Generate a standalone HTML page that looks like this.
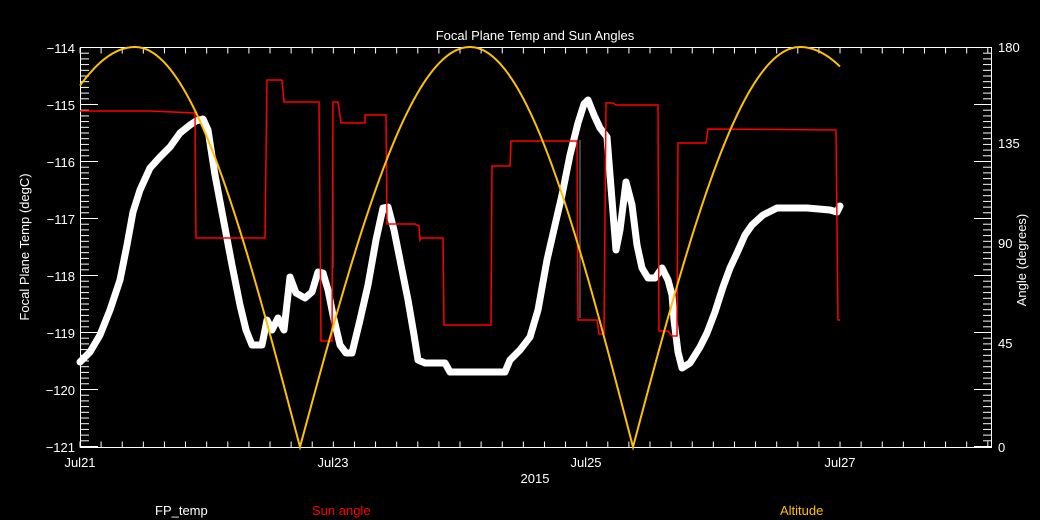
<!DOCTYPE html>
<html><head><meta charset="utf-8"><style>
html,body{margin:0;padding:0;background:#000;}
svg{display:block;}
text{font-family:"Liberation Sans",sans-serif;fill:#fff;font-size:13px;}
</style></head><body>
<svg id="s" width="1040" height="520" viewBox="0 0 1040 520" xmlns="http://www.w3.org/2000/svg">
<rect width="1040" height="520" fill="#000"/>
<text x="535" y="40" text-anchor="middle" font-size="14">Focal Plane Temp and Sun Angles</text>
<g id="ax" stroke="#fff" stroke-width="1" fill="none"></g>
<text x="75" y="53" text-anchor="end">−114</text>
<text x="75" y="110" text-anchor="end">−115</text>
<text x="75" y="167" text-anchor="end">−116</text>
<text x="75" y="224" text-anchor="end">−117</text>
<text x="75" y="281" text-anchor="end">−118</text>
<text x="75" y="338" text-anchor="end">−119</text>
<text x="75" y="395" text-anchor="end">−120</text>
<text x="75" y="452" text-anchor="end">−121</text>
<text x="998" y="52">180</text>
<text x="998" y="148">135</text>
<text x="998" y="248">90</text>
<text x="998" y="348">45</text>
<text x="998" y="452">0</text>
<text x="80" y="467" text-anchor="middle">Jul21</text>
<text x="333" y="467" text-anchor="middle">Jul23</text>
<text x="586" y="467" text-anchor="middle">Jul25</text>
<text x="840" y="467" text-anchor="middle">Jul27</text>
<text x="535" y="483" text-anchor="middle">2015</text>
<text transform="translate(29,247) rotate(-90)" text-anchor="middle">Focal Plane Temp (degC)</text>
<text transform="translate(1026,260) rotate(-90)" text-anchor="middle">Angle (degrees)</text>
<text x="155" y="515">FP_temp</text>
<text x="312" y="515" style="fill:#ff0000">Sun angle</text>
<text x="780" y="515" style="fill:#ffc000">Altitude</text>
<line x1="333" y1="112" x2="333" y2="268" stroke="#888" stroke-width="1"/>
<line x1="580" y1="140" x2="580" y2="318" stroke="#888" stroke-width="1"/>
<polyline id="fp" fill="none" stroke="#fff" stroke-width="7" stroke-linejoin="round" stroke-linecap="round" points="80,362 90,352 100,335 110,310 120,280 127,245 133,212 140,190 150,168 160,157 170,147 180,133 190,125 196,121 203,119 208,130 215,175 225,228 232,265 240,305 246,330 252,345 262,345 267,320 272,330 278,318 284,330 290,277 296,293 305,298 312,292 318,272 323,273 328,290 333,315 340,345 346,353 352,353 360,320 368,285 376,240 383,208 388,207 394,230 400,260 408,300 414,335 418,360 425,363 445,363 450,372 505,372 510,360 520,350 530,337 538,310 547,260 555,225 562,195 570,155 578,123 584,104 588,100 594,115 600,128 607,137 612,200 616,250 620,230 626,182 632,205 637,245 642,268 648,278 655,278 662,268 668,280 672,295 674,320 678,352 682,368 690,363 700,347 707,333 715,312 723,287 730,268 737,253 745,235 752,225 763,215 777,208 807,208 830,210 837,212 840,206"/>
<polyline id="sun" fill="none" stroke="#ff0000" stroke-width="1.5" points="80,111 150,111 195,113 196,238 265,238 267,80 282,80 284,102 319,102 321,341 332,341 333,102 338,102 341,123 365,123 365,115 386,115 387,224 415,224 419,226 420,240 421,238 443,238 444,325 491,325 492,166 510,166 511,141 577,141 578,320 597,320 599,334 604,334 606,103 613,103 616,105 658,105 659,331 668,331 672,336 677,336 678,143 706,143 708,129 836,130 838,320 840,320"/>
<polyline id="alt" fill="none" stroke="#ffc000" stroke-width="2"/>
</svg>
<script>
var ax=document.getElementById('ax'),ns="http://www.w3.org/2000/svg";
function L(x1,y1,x2,y2){var l=document.createElementNS(ns,'line');l.setAttribute('x1',x1);l.setAttribute('y1',y1);l.setAttribute('x2',x2);l.setAttribute('y2',y2);ax.appendChild(l);}
var X0=80,X1=992,Y0=47.5,Y1=447.5;
L(X0,Y0,X1,Y0);L(X0,Y1,X1,Y1);L(X0+0.5,Y0,X0+0.5,Y1);L(X1-0.5,Y0,X1-0.5,Y1);
var dx=126.67/6;
for(var x=X0;x<=X1+1;x+=dx){L(x,Y1,x,Y1-6);L(x,Y0,x,Y0+6);}
var dy=57;
for(var i=0;i<=70;i++){var y=Y0+i*dy/10;var len=(i%10==0)?18:9;L(X0,y,X0+len,y);L(X1,y,X1-len,y);}
var kn=[[-60,0],[135,180],[300,0],[470,180],[633,0],[800,180],[1000,0]];
var pts=[];
for(var x=80;x<=840;x+=1){
 var k=0;while(kn[k+1][0]<x)k++;
 var a=kn[k],b=kn[k+1],t=(x-a[0])/(b[0]-a[0]);
 var p=(a[1]==180)?t:1-t;
 var ang=180*Math.cos(Math.PI/2*p);
 pts.push(x+','+(447-400*ang/180).toFixed(1));
}
document.getElementById('alt').setAttribute('points',pts.join(' '));
</script>
</body></html>
